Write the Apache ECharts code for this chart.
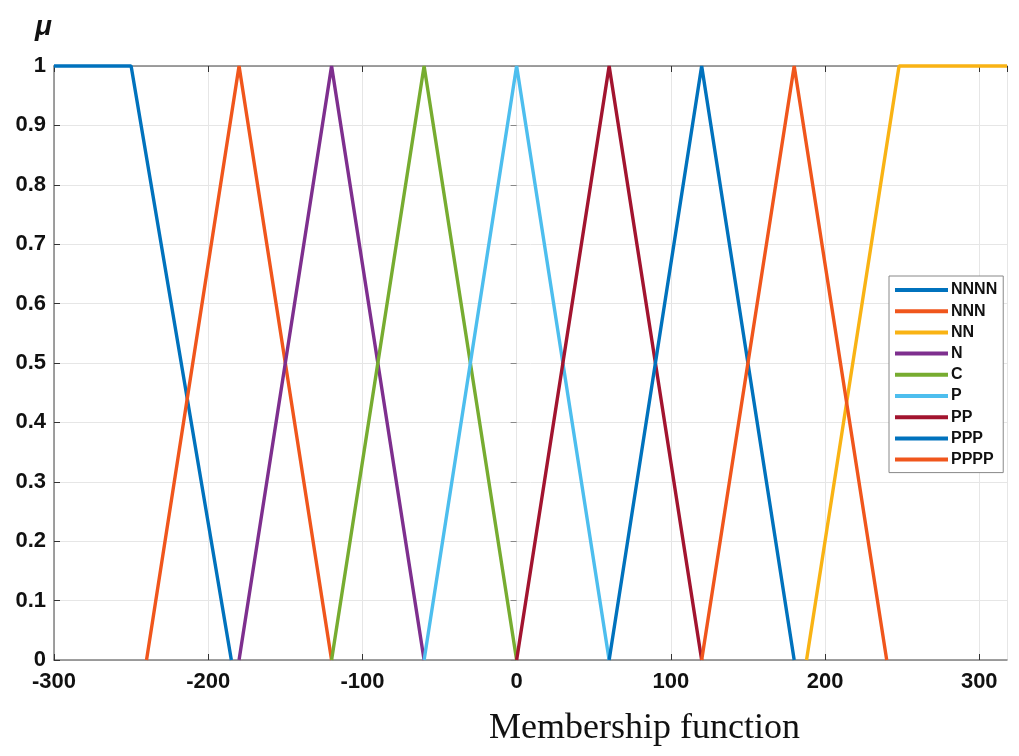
<!DOCTYPE html>
<html>
<head>
<meta charset="utf-8">
<script src="https://cdn.jsdelivr.net/npm/echarts@6/dist/echarts.min.js"></script>
<style>html,body{margin:0;padding:0;background:#fff}#c{width:1019px;height:756px}</style>
</head>
<body>
<div id="c"></div>
<script>
const seriesNames = ['NNNN','NNN','NN','N','C','P','PP','PPP','PPPP'];
const seriesColors = ['#0072BD','#F0561C','#F9B314','#7E2F8E','#77AC30','#4DBEEE','#A2142F','#0072BD','#F0561C'];
const NNNN = [[-300,1],[-250,1],[-185,0]];
const NNN  = [[-240,0],[-180,1],[-120,0]];
const NN   = [[188,0],[248,1],[318,1]];
const N    = [[-180,0],[-120,1],[-60,0]];
const C    = [[-120,0],[-60,1],[0,0]];
const P    = [[-60,0],[0,1],[60,0]];
const PP   = [[0,0],[60,1],[120,0]];
const PPP  = [[60,0],[120,1],[180,0]];
const PPPP = [[120,0],[180,1],[240,0]];
const seriesData = [NNNN,NNN,NN,N,C,P,PP,PPP,PPPP];
const xMin = -300, xMax = 318, xStep = 100;
const yMin = 0, yMax = 1, yStep = 0.1;

const chart = echarts.init(document.getElementById('c'), null, {renderer:'canvas'});
const axisGray = '#808080';
const labelFont = {fontFamily:'Liberation Sans', fontWeight:'bold', fontSize:22, color:'#111'};
chart.setOption({
  animation:false,
  backgroundColor:'#fff',
  grid:{left:54, right:12, top:66, bottom:96, containLabel:false},
  title:{text:'μ', left:30, top:8, textStyle:{fontFamily:'Liberation Sans', fontStyle:'italic', fontWeight:'bold', fontSize:28, color:'#111'}},
  graphic:[{type:'text', left:489, top:711, style:{text:'Membership function', font:'36px "Liberation Serif"', fill:'#111'}}],
  legend:{
    orient:'vertical', left:889, top:276, padding:[6,6,5,6],
    borderColor:'#888', borderWidth:1, backgroundColor:'#fff',
    itemWidth:53, itemHeight:4, itemGap:5.2, icon:'rect',
    textStyle:{fontFamily:'Liberation Sans', fontWeight:'bold', fontSize:16, color:'#111', lineHeight:16, padding:[0,0,0,-2]},
    data:seriesNames
  },
  xAxis:[{
    type:'value', min:xMin, max:xMax, interval:xStep, position:'bottom',
    axisLine:{show:true, onZero:false, lineStyle:{color:axisGray, width:1.5}},
    axisTick:{show:true, inside:true, length:6, lineStyle:{color:'#333'}},
    axisLabel:{...labelFont, margin:11, showMaxLabel:false},
    splitLine:{show:true, lineStyle:{color:'#e6e6e6', width:1}}
  },{
    type:'value', min:xMin, max:xMax, interval:xStep, position:'top',
    axisLine:{show:true, onZero:false, lineStyle:{color:axisGray, width:1.5}},
    axisTick:{show:true, inside:true, length:6, lineStyle:{color:'#333'}},
    axisLabel:{show:false}, splitLine:{show:false}
  }],
  yAxis:[{
    type:'value', min:yMin, max:yMax, interval:yStep, position:'left',
    axisLine:{show:true, onZero:false, lineStyle:{color:axisGray, width:1.5}},
    axisTick:{show:true, inside:true, length:6, lineStyle:{color:'#333'}},
    axisLabel:{...labelFont, margin:8, formatter:v=>String(Math.round(v*10)/10)},
    splitLine:{show:true, lineStyle:{color:'#e6e6e6', width:1}}
  },{
    type:'value', min:yMin, max:yMax, interval:yStep, position:'right',
    axisLine:{show:false},
    axisTick:{show:true, inside:true, length:6, lineStyle:{color:'#888'}},
    axisLabel:{show:false}, splitLine:{show:false}
  }],
  series: seriesNames.map((n,i)=>({
    name:n, type:'line', data:seriesData[i], xAxisIndex:0, yAxisIndex:0,
    symbol:'none', showSymbol:false, clip:false, z:3+i,
    lineStyle:{color:seriesColors[i], width:3.4}, itemStyle:{color:seriesColors[i]}
  }))
});
</script>
</body>
</html>
